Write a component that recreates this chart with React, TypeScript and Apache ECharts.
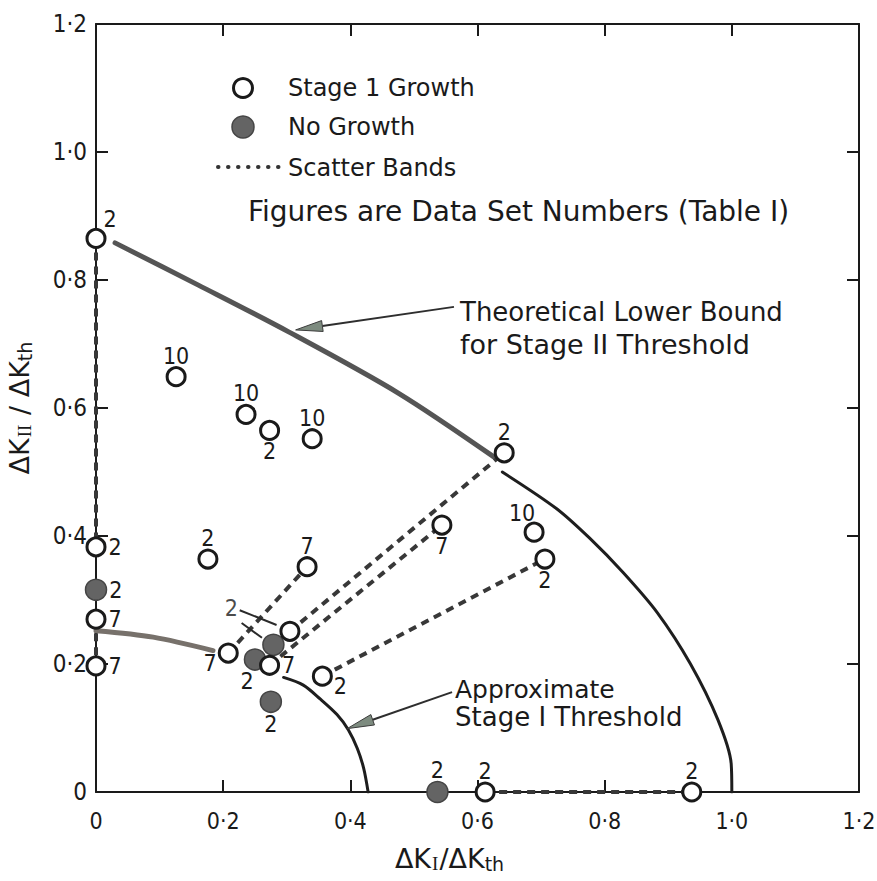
import React, { useEffect, useRef } from 'react';
import * as echarts from 'echarts';

// Stage 1 Growth (open circles): [ΔKI/ΔKth, ΔKII/ΔKth, data set number]
const stage1Growth: [number, number, string][] = [
  [0, 0.865, '2'],
  [0.126, 0.649, '10'],
  [0.236, 0.59, '10'],
  [0.273, 0.565, '2'],
  [0.34, 0.552, '10'],
  [0.642, 0.53, '2'],
  [0, 0.383, '2'],
  [0.176, 0.364, '2'],
  [0.332, 0.352, '7'],
  [0.544, 0.417, '7'],
  [0.689, 0.406, '10'],
  [0.706, 0.364, '2'],
  [0, 0.27, '7'],
  [0, 0.197, '7'],
  [0.208, 0.217, '7'],
  [0.305, 0.251, ''],
  [0.273, 0.198, '7'],
  [0.356, 0.181, '2'],
  [0.612, 0, '2'],
  [0.937, 0, '2'],
];
const stage1LabelSide = [
  'topRight', 'top', 'top', 'bottom', 'top', 'top', 'right', 'top', 'top', 'bottom',
  'topLeft', 'bottom', 'right', 'right', 'leftLow', 'none', 'right', 'rightLow', 'top', 'top',
];

// No Growth (filled circles)
const noGrowth: [number, number, string][] = [
  [0, 0.316, '2'],
  [0.25, 0.207, '2'],
  [0.279, 0.23, ''],
  [0.275, 0.141, '2'],
  [0.537, 0, '2'],
];
const noGrowthLabelSide = ['right', 'bottomLeft', 'none', 'bottom', 'top'];

// Scatter bands (dashed connections)
const scatterBands: [number, number][][] = [
  [[0, 0.865], [0, 0.383]],
  [[0, 0.27], [0, 0.197]],
  [[0.208, 0.217], [0.332, 0.352]],
  [[0.305, 0.251], [0.642, 0.53]],
  [[0.273, 0.198], [0.544, 0.417]],
  [[0.356, 0.181], [0.706, 0.364]],
  [[0.612, 0], [0.937, 0]],
];

// Theoretical lower bound for Stage II threshold
const stageIIBoundUpper: [number, number][] = [
  [0.03, 0.858], [0.161, 0.792], [0.303, 0.719], [0.476, 0.623], [0.628, 0.522],
];
const stageIIBoundLower: [number, number][] = [
  [0.639, 0.5], [0.724, 0.443], [0.776, 0.397], [0.829, 0.343], [0.883, 0.28],
  [0.935, 0.2], [0.978, 0.113], [0.999, 0.044], [1.0, 0],
];

// Approximate Stage I threshold
const stageIThresholdLeft: [number, number][] = [[0, 0.252], [0.09, 0.242], [0.184, 0.221]];
const stageIThresholdRight: [number, number][] = [
  [0.295, 0.179], [0.326, 0.167], [0.353, 0.145], [0.379, 0.121],
  [0.397, 0.097], [0.411, 0.068], [0.421, 0.037], [0.428, 0],
];

// Shared "2" label with leader lines
const leaderLabel: [number, number, string] = [0.213, 0.288, '2'];
const leaderLines: [number, number][][] = [
  [[0.226, 0.284], [0.284, 0.261]],
  [[0.229, 0.264], [0.261, 0.241]],
];

// Annotation arrows: [tail, tip]
const annotationArrows: [number, number][][] = [
  [[0.563, 0.758], [0.314, 0.722]],
  [[0.56, 0.156], [0.395, 0.099]],
];

const TICK_FONT = '"DejaVu Sans Condensed", "DejaVu Sans", sans-serif';
const TEXT_FONT = '"DejaVu Sans", sans-serif';
const INK = '#1a1a1a';

const fmt = (v: number) => (v === 0 ? '0' : v.toFixed(1).replace('.', '\u00B7'));

const labelFor = (side: string, text: string): any => {
  const base = { show: text !== '', formatter: text, fontSize: 23, fontFamily: TICK_FONT, color: INK };
  switch (side) {
    case 'top': return { ...base, position: 'top', distance: -1 };
    case 'topRight': return { ...base, position: 'top', distance: -1, offset: [14, 2] };
    case 'topLeft': return { ...base, position: 'top', distance: -1, offset: [-12, 2] };
    case 'bottom': return { ...base, position: 'bottom', distance: -1 };
    case 'bottomLeft': return { ...base, position: 'bottom', distance: -1, offset: [-8, 0] };
    case 'right': return { ...base, position: 'right', distance: 2 };
    case 'rightLow': return { ...base, position: 'right', distance: 1, offset: [0, 10] };
    case 'leftLow': return { ...base, position: 'left', distance: 1, offset: [0, 10] };
    default: return { ...base, show: false };
  }
};

const txt = (x: number, y: number, text: string, size: number) => ({
  type: 'text', x, y,
  style: { text, fontSize: size, fontFamily: TEXT_FONT, fill: INK, verticalAlign: 'middle' },
});

function buildOption(): any {
  const axisLine = { show: true, onZero: false, lineStyle: { color: INK, width: 2 } };
  const tick = { show: true, inside: true, length: 12, lineStyle: { color: INK, width: 2 } };
  const rich = {
    m: { fontSize: 27, fontFamily: TEXT_FONT, color: INK },
    r: { fontSize: 19, fontFamily: '"Liberation Serif", serif', color: INK, padding: [10, 1, 0, 1] },
    s: { fontSize: 19, fontFamily: TEXT_FONT, color: INK, padding: [10, 0, 0, 0] },
  };

  const bandSeries = scatterBands.map((b, i) => ({
    name: 'Scatter Bands',
    id: 'band' + i,
    type: 'line',
    data: b,
    symbol: 'none',
    z: 2,
    lineStyle: { color: '#383838', width: 4, type: [8, 6] },
  }));

  const leaderSeries = leaderLines.map((l, i) => ({
    id: 'leader' + i,
    type: 'line',
    data: l,
    symbol: 'none',
    z: 3,
    lineStyle: { color: '#2a2a2a', width: 2 },
  }));

  return {
    animation: false,
    backgroundColor: '#ffffff',
    grid: { left: 96, right: 18, top: 24, bottom: 89, containLabel: false, outerBoundsMode: 'none' },
    xAxis: [
      {
        type: 'value', min: 0, max: 1.2, interval: 0.2, position: 'bottom',
        axisLine, axisTick: tick, splitLine: { show: false },
        axisLabel: { formatter: fmt, fontSize: 23, fontFamily: TICK_FONT, color: INK, margin: 17 },
        name: '{m|\u0394K}{r|I}{m|/\u0394K}{s|th}',
        nameLocation: 'middle', nameGap: 52,
        nameTextStyle: { rich, padding: [0, 56, 0, 0] },
      },
      {
        type: 'value', min: 0, max: 1.2, interval: 0.2, position: 'top',
        axisLine, axisTick: tick, splitLine: { show: false }, axisLabel: { show: false },
      },
    ],
    yAxis: [
      {
        type: 'value', min: 0, max: 1.2, interval: 0.2, position: 'left',
        axisLine, axisTick: tick, splitLine: { show: false },
        axisLabel: { formatter: fmt, fontSize: 24, fontFamily: TICK_FONT, color: INK, margin: 9 },
        name: '{m|\u0394K}{r|II}{m| / \u0394K}{s|th}',
        nameLocation: 'middle', nameGap: 62,
        nameTextStyle: { rich },
      },
      {
        type: 'value', min: 0, max: 1.2, interval: 0.2, position: 'right',
        axisLine, axisTick: tick, splitLine: { show: false }, axisLabel: { show: false },
      },
    ],
    graphic: [
      { type: 'circle', shape: { cx: 243, cy: 88, r: 9.5 }, style: { fill: '#fff', stroke: INK, lineWidth: 3 } },
      { type: 'circle', shape: { cx: 243, cy: 127, r: 11 }, style: { fill: '#646464', stroke: '#444', lineWidth: 1.5 } },
      { type: 'line', shape: { x1: 218, y1: 167, x2: 279, y2: 167 }, style: { stroke: '#333', lineWidth: 4, lineDash: [0.5, 9.5], lineCap: 'round' } },
      txt(288, 88, 'Stage 1 Growth', 24),
      txt(288, 127, 'No Growth', 24),
      txt(288, 168, 'Scatter Bands', 24),
      txt(248, 211, 'Figures are Data Set Numbers (Table I)', 28),
      txt(460, 312, 'Theoretical Lower Bound', 26),
      txt(460, 344, 'for Stage II Threshold', 27),
      txt(455, 689, 'Approximate', 25),
      txt(455, 717, 'Stage I Threshold', 26),
    ],
    series: [
      {
        id: 'boundUpper', type: 'line', data: stageIIBoundUpper, symbol: 'none', smooth: 0.3, z: 2,
        lineStyle: { color: '#555', width: 5, cap: 'round' },
      },
      {
        id: 'boundLower', type: 'line', data: stageIIBoundLower, symbol: 'none', smooth: 0.3, z: 2,
        lineStyle: { color: '#1e1e1e', width: 3, cap: 'round' },
      },
      {
        id: 'stage1Left', type: 'line', data: stageIThresholdLeft, symbol: 'none', smooth: 0.3, z: 2,
        lineStyle: { color: '#77716b', width: 5, cap: 'round' },
      },
      {
        id: 'stage1Right', type: 'line', data: stageIThresholdRight, symbol: 'none', smooth: 0.3, z: 2,
        lineStyle: { color: '#1e1e1e', width: 3, cap: 'round' },
      },
      ...bandSeries,
      ...leaderSeries,
      {
        id: 'arrows',
        type: 'custom',
        coordinateSystem: 'cartesian2d',
        z: 3,
        data: annotationArrows.map((a) => [a[0][0], a[0][1], a[1][0], a[1][1]]),
        renderItem: (_params: any, api: any) => {
          const p0 = api.coord([api.value(0), api.value(1)]);
          const p1 = api.coord([api.value(2), api.value(3)]);
          const dx = p1[0] - p0[0];
          const dy = p1[1] - p0[1];
          const len = Math.hypot(dx, dy);
          const ux = dx / len;
          const uy = dy / len;
          const headLen = 27;
          const headW = 5.5;
          const bx = p1[0] - ux * headLen;
          const by = p1[1] - uy * headLen;
          return {
            type: 'group',
            children: [
              { type: 'line', shape: { x1: p0[0], y1: p0[1], x2: bx, y2: by }, style: { stroke: '#2e2e2e', lineWidth: 2 } },
              {
                type: 'polygon',
                shape: { points: [[p1[0], p1[1]], [bx - uy * headW, by + ux * headW], [bx + uy * headW, by - ux * headW]] },
                style: { fill: '#7d8b7f', stroke: '#3c3c3c', lineWidth: 1 },
              },
            ],
          };
        },
      },
      {
        name: 'No Growth', id: 'noGrowth', type: 'scatter', z: 5,
        symbol: 'circle', symbolSize: 21,
        itemStyle: { color: '#646464', borderColor: '#444', borderWidth: 1.5, opacity: 1 },
        data: noGrowth.map((p, i) => ({ value: [p[0], p[1]], label: labelFor(noGrowthLabelSide[i], p[2]) })),
      },
      {
        name: 'Stage 1 Growth', id: 'stage1', type: 'scatter', z: 6,
        symbol: 'circle', symbolSize: 18,
        itemStyle: { color: '#ffffff', borderColor: INK, borderWidth: 3, opacity: 1 },
        data: stage1Growth.map((p, i) => ({ value: [p[0], p[1]], label: labelFor(stage1LabelSide[i], p[2]) })),
      },
      {
        id: 'leaderLabel', type: 'scatter', z: 6, symbolSize: 1,
        itemStyle: { color: 'rgba(0,0,0,0)' },
        data: [{
          value: [leaderLabel[0], leaderLabel[1]],
          label: { show: true, position: 'inside', formatter: leaderLabel[2], fontSize: 23, fontFamily: TICK_FONT, color: INK },
        }],
      },
    ],
  };
}

export default function App() {
  const ref = useRef<HTMLDivElement>(null);
  useEffect(() => {
    if (!ref.current) return;
    const chart = echarts.init(ref.current, undefined, { renderer: 'svg' });
    chart.setOption(buildOption());
    return () => chart.dispose();
  }, []);
  return <div ref={ref} style={{ position: 'fixed', left: 0, top: 0, width: 877, height: 881, background: '#fff' }} />;
}
